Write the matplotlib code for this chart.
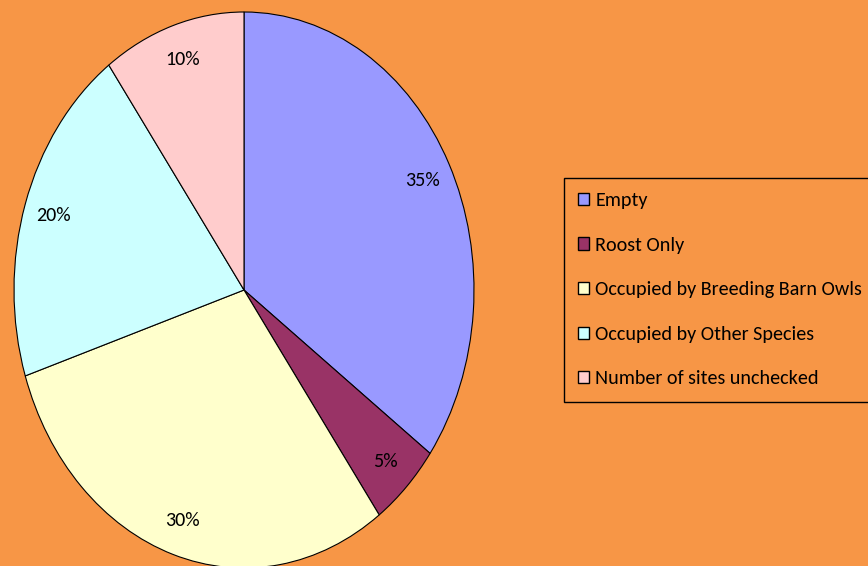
import matplotlib
matplotlib.use("Agg")
import matplotlib.pyplot as plt

categories = ["Empty", "Roost Only", "Occupied by Breeding Barn Owls",
              "Occupied by Other Species", "Number of sites unchecked"]
shares = [35, 5, 30, 20, 10]
colors = ["#9999FF", "#993366", "#FFFFCC", "#CCFFFF", "#FFCCCC"]
background = "#F79646"

plt.rcParams["font.family"] = ["Carlito", "DejaVu Sans"]

W, H = 868, 566
fig = plt.figure(figsize=(W / 100, H / 100), dpi=100, facecolor=background)

# Elliptical pie: the pie is stretched to fill a taller-than-wide axes box
cx, cy, rx, ry = 244, 290, 230, 278
ax = fig.add_axes([(cx - rx) / W, (H - cy - ry) / H, 2 * rx / W, 2 * ry / H])
ax.set_facecolor(background)
wedges, texts, autotexts = ax.pie(
    shares, colors=colors, startangle=90, counterclock=False,
    autopct="%d%%", pctdistance=0.87,
    wedgeprops=dict(edgecolor="black", linewidth=0.8),
    textprops=dict(fontsize=14.5, color="black"),
)
ax.set_aspect("auto")
ax.set_xlim(-1, 1)
ax.set_ylim(-1, 1)
ax.axis("off")

leg = fig.legend(
    wedges, categories, loc="upper left",
    bbox_to_anchor=(564 / W, 1 - 178 / H), borderaxespad=0,
    frameon=True, fancybox=False, edgecolor="black", facecolor=background,
    framealpha=1, fontsize=14.5, handlelength=0.55, handleheight=0.55,
    handletextpad=0.3, labelspacing=1.37, borderpad=0.7,
)
leg.get_frame().set_linewidth(1.0)
for h in leg.legend_handles:
    h.set_edgecolor("black")
    h.set_linewidth(1.0)

fig.savefig("out.png", dpi=100, facecolor=background)
